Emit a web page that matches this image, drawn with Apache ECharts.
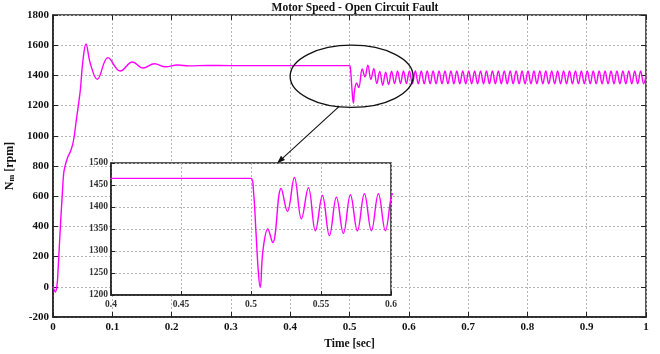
<!DOCTYPE html>
<html>
<head>
<meta charset="utf-8">
<script src="https://cdn.jsdelivr.net/npm/echarts@6/dist/echarts.min.js"></script>
<style>
  html, body { margin: 0; padding: 0; background: #fff; }
  #main { width: 660px; height: 354px; }
</style>
</head>
<body>
<div id="main"></div>
<script>
// motor speed: [time s, speed rpm]
var startup = [
  [0, 0], [0.004, -34], [0.007, 20], [0.0085, 110], [0.011, 290], [0.013, 440],
  [0.0155, 600], [0.018, 750], [0.0207, 805], [0.025, 860], [0.029, 893],
  [0.033, 940], [0.036, 1003], [0.0395, 1110], [0.046, 1300], [0.05, 1480],
  [0.0556, 1608], [0.063, 1478], [0.0747, 1374], [0.0927, 1518], [0.1134, 1429],
  [0.134, 1489], [0.152, 1449], [0.171, 1477], [0.19, 1457], [0.21, 1469],
  [0.23, 1463], [0.26, 1466], [0.3, 1465], [0.4, 1465], [0.5, 1465]
];
var fault = [
  [0.5017, 1439], [0.5036, 1340], [0.5053, 1250], [0.5066, 1217], [0.5085, 1300],
  [0.512, 1350], [0.5155, 1319], [0.5215, 1442], [0.526, 1390], [0.531, 1467],
  [0.536, 1373], [0.541, 1444], [0.546, 1346], [0.551, 1426], [0.556, 1335],
  [0.561, 1422], [0.566, 1340], [0.571, 1428], [0.576, 1346], [0.581, 1430],
  [0.586, 1346], [0.591, 1430], [0.596, 1346]
];
var steady = [
  [0.601, 1430], [0.606, 1345], [0.611, 1430], [0.616, 1345], [0.621, 1430], [0.626, 1345],
  [0.631, 1430], [0.636, 1345], [0.641, 1430], [0.646, 1345], [0.651, 1430], [0.656, 1345],
  [0.661, 1430], [0.666, 1345], [0.671, 1430], [0.676, 1345], [0.681, 1430], [0.686, 1345],
  [0.691, 1430], [0.696, 1345], [0.701, 1430], [0.706, 1345], [0.711, 1430], [0.716, 1345],
  [0.721, 1430], [0.726, 1345], [0.731, 1430], [0.736, 1345], [0.741, 1430], [0.746, 1345],
  [0.751, 1430], [0.756, 1345], [0.761, 1430], [0.766, 1345], [0.771, 1430], [0.776, 1345],
  [0.781, 1430], [0.786, 1345], [0.791, 1430], [0.796, 1345], [0.801, 1430], [0.806, 1345],
  [0.811, 1430], [0.816, 1345], [0.821, 1430], [0.826, 1345], [0.831, 1430], [0.836, 1345],
  [0.841, 1430], [0.846, 1345], [0.851, 1430], [0.856, 1345], [0.861, 1430], [0.866, 1345],
  [0.871, 1430], [0.876, 1345], [0.881, 1430], [0.886, 1345], [0.891, 1430], [0.896, 1345],
  [0.901, 1430], [0.906, 1345], [0.911, 1430], [0.916, 1345], [0.921, 1430], [0.926, 1345],
  [0.931, 1430], [0.936, 1345], [0.941, 1430], [0.946, 1345], [0.951, 1430], [0.956, 1345],
  [0.961, 1430], [0.966, 1345], [0.971, 1430], [0.976, 1345], [0.981, 1430], [0.986, 1345],
  [0.991, 1430], [0.996, 1345], [1.0, 1400]
];
var speed = startup.concat(fault, steady);

var FONT = "'Liberation Serif', 'DejaVu Serif', serif";
var MAGENTA = "#ff00ff";
var gridLine = { show: true, lineStyle: { color: "#b4b4b4", type: [2, 2], width: 1 } };

var chart = echarts.init(document.getElementById("main"));

function axisLabel(size, weight) {
  return {
    color: "#111", fontFamily: FONT, fontSize: size, fontWeight: weight,
    formatter: function (v) { return String(v); }
  };
}

chart.setOption({
  animation: false,
  backgroundColor: "#fff",
  title: {
    text: "Motor Speed - Open Circuit Fault",
    left: 350,
    top: -3,
    textAlign: "center",
    textStyle: { fontFamily: FONT, fontSize: 11.5, fontWeight: "bold", color: "#111" }
  },
  grid: [
    { left: 53, right: 14, top: 15, bottom: 37, show: true, borderColor: "#222", borderWidth: 1.5, backgroundColor: "#fff", outerBoundsMode: "none" },
    { left: 111, right: 269, top: 163, bottom: 59, show: true, borderColor: "#222", borderWidth: 1.5, backgroundColor: "#fff", z: 10, outerBoundsMode: "none" }
  ],
  xAxis: [
    {
      type: "value", gridIndex: 0, min: 0, max: 1, interval: 0.1,
      name: "Time [sec]", nameLocation: "middle", nameGap: 17,
      nameTextStyle: { fontFamily: FONT, fontSize: 11.5, fontWeight: "bold", color: "#111" },
      axisLine: { show: true, onZero: false, lineStyle: { color: "#222", width: 1.5 } },
      axisTick: { inside: true, length: 5, lineStyle: { color: "#222" } },
      axisLabel: Object.assign(axisLabel(11, "bold"), { margin: 5 }),
      splitLine: gridLine
    },
    {
      type: "value", gridIndex: 0, min: 0, max: 1, interval: 0.1, position: "top",
      axisLine: { show: false, onZero: false }, axisLabel: { show: false }, splitLine: { show: false },
      axisTick: { inside: true, length: 5, lineStyle: { color: "#222" } }
    },
    {
      type: "value", gridIndex: 1, min: 0.4, max: 0.6, interval: 0.05, z: 10,
      axisLine: { show: true, onZero: false, lineStyle: { color: "#222", width: 1.5 } },
      axisTick: { inside: true, length: 4, lineStyle: { color: "#222" } },
      axisLabel: Object.assign(axisLabel(9.5, "bold"), { margin: 5, color: "#333" }),
      splitLine: gridLine
    }
  ],
  yAxis: [
    {
      type: "value", gridIndex: 0, min: -200, max: 1800, interval: 200,
      name: "{a|N}{b|m}{a| [rpm]}", nameLocation: "middle", nameGap: 37, nameMoveOverlap: false,
      nameTextStyle: {
        rich: {
          a: { fontFamily: FONT, fontSize: 12, fontWeight: "bold", color: "#111" },
          b: { fontFamily: FONT, fontSize: 8, fontWeight: "bold", color: "#111", verticalAlign: "bottom", padding: [5, 0, 0, 0] }
        }
      },
      axisLine: { show: true, onZero: false, lineStyle: { color: "#222", width: 1.5 } },
      axisTick: { show: true, inside: true, length: 5, lineStyle: { color: "#222" } },
      axisLabel: Object.assign(axisLabel(11, "bold"), { margin: 4 }),
      splitLine: gridLine
    },
    {
      type: "value", gridIndex: 0, min: -200, max: 1800, interval: 200, position: "right",
      axisLine: { show: false, onZero: false }, axisLabel: { show: false }, splitLine: { show: false },
      axisTick: { show: true, inside: true, length: 5, lineStyle: { color: "#222" } }
    },
    {
      type: "value", gridIndex: 1, min: 1200, max: 1500, interval: 50, z: 10,
      axisLine: { show: true, onZero: false, lineStyle: { color: "#222", width: 1.5 } },
      axisTick: { show: true, inside: true, length: 4, lineStyle: { color: "#222" } },
      axisLabel: Object.assign(axisLabel(9.5, "bold"), { margin: 3, color: "#333" }),
      splitLine: gridLine
    }
  ],
  series: [
    {
      type: "line", xAxisIndex: 0, yAxisIndex: 0, data: speed,
      smooth: 0.4, showSymbol: false, symbol: "none",
      lineStyle: { color: MAGENTA, width: 1.4 }, z: 3
    },
    {
      type: "line", xAxisIndex: 2, yAxisIndex: 2, data: speed,
      smooth: 0.4, showSymbol: false, symbol: "none", clip: true,
      lineStyle: { color: MAGENTA, width: 1.4 }, z: 12
    }
  ]
});

// zoom ellipse and arrow, placed in the main plot's data coordinates
var c = chart.convertToPixel({ gridIndex: 0 }, [0.5036, 1394]);
var e = chart.convertToPixel({ gridIndex: 0 }, [0.6073, 1600]);
var a0 = chart.convertToPixel({ gridIndex: 0 }, [0.4826, 1195]);
var a1 = chart.convertToPixel({ gridIndex: 0 }, [0.3779, 818]);
var rx = e[0] - c[0], ry = c[1] - e[1];
var ang = Math.atan2(a1[1] - a0[1], a1[0] - a0[0]);
var hl = 8, hw = 3;
var bx = a1[0] - hl * Math.cos(ang), by = a1[1] - hl * Math.sin(ang);
var px = -Math.sin(ang) * hw, py = Math.cos(ang) * hw;

chart.setOption({
  graphic: [
    {
      type: "ellipse", z: 20,
      shape: { cx: c[0], cy: c[1], rx: rx, ry: ry },
      style: { fill: null, stroke: "#111", lineWidth: 1.3 }
    },
    {
      type: "line", z: 20,
      shape: { x1: a0[0], y1: a0[1], x2: bx, y2: by },
      style: { stroke: "#111", lineWidth: 1.1 }
    },
    {
      type: "polygon", z: 20,
      shape: { points: [[a1[0], a1[1]], [bx + px, by + py], [bx - px, by - py]] },
      style: { fill: "#111" }
    }
  ]
});
</script>
</body>
</html>
